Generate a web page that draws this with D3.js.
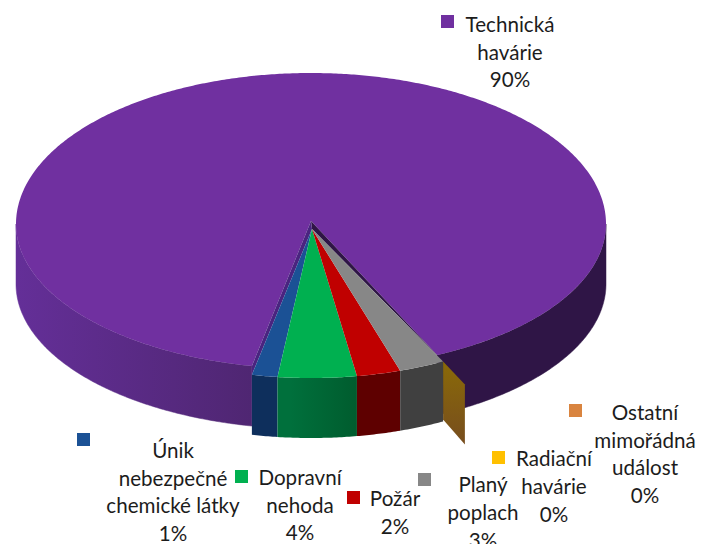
<!DOCTYPE html>
<html>
<head>
<meta charset="utf-8">
<script src="https://cdnjs.cloudflare.com/ajax/libs/d3/7.8.5/d3.min.js"></script>
<style>
    html, body { margin: 0; padding: 0; background: #fff; }
    text { font-family: Lato, "Open Sans", sans-serif; font-size: 20.6px; fill: #1c1c1c; text-anchor: middle; dominant-baseline: central; }
</style>
</head>
<body>
<div id="chart"></div>
<script>
var categories = ["Technická havárie", "Únik nebezpečné chemické látky", "Dopravní nehoda", "Požár", "Planý poplach", "Radiační havárie", "Ostatní mimořádná událost"];
var values = [89.4, 1.4, 4.3, 2.4, 2.5, 0, 0];
var percentLabels = ["90%", "1%", "4%", "2%", "3%", "0%", "0%"];
var labelLines = [["Technická", "havárie"], ["Únik", "nebezpečné", "chemické látky"], ["Dopravní", "nehoda"], ["Požár"], ["Planý", "poplach"], ["Radiační", "havárie"], ["Ostatní", "mimořádná", "událost"]];

var topColors = ["#7030a0", "#1b5195", "#00b050", "#c00000", "#878787", "#ffc000", "#d9843f"];
var wallColors = [null, "#0e2f5c", "url(#wall-green)", "#5e0000", "#404040", null, null];

// legend square and first text line for every category
var labelPos = [
    {sx: 441, sy: 15, tx: 510, ty: 24, lh: 27.5},
    {sx: 77, sy: 433, tx: 173, ty: 450, lh: 27.7},
    {sx: 235, sy: 470, tx: 300, ty: 477, lh: 27.5},
    {sx: 347, sy: 491, tx: 395, ty: 498, lh: 27.5},
    {sx: 418, sy: 473, tx: 483, ty: 484, lh: 28},
    {sx: 492, sy: 451, tx: 554, ty: 458, lh: 28},
    {sx: 569, sy: 404, tx: 645, ty: 412, lh: 27.7}
];

var width = 701, height = 544;
var depth = 60;
var toRad = Math.PI / 180;
var firstAngle = (360 + 153.4) * toRad;

var svg = d3.select("#chart").append("svg")
    .attr("width", width)
    .attr("height", height)
    .style("display", "block");

var xScale = d3.scaleLinear().domain([-1, 1]).range([16, 606]);
// big slice sits further back than the small ones, so the two have their own y scale
var yBig = d3.scaleLinear().domain([-1, 0, 1]).range([73, 224, 369]);
var ySmall = d3.scaleLinear().domain([0, 1]).range([222, 378]);

function rimBig(a) {
    return [xScale(Math.sin(a)), yBig(-Math.cos(a))];
}

function rimSmall(a, r) {
    r = r === undefined ? 1 : r;
    return [xScale(r * Math.sin(a)), ySmall(-r * Math.cos(a))];
}

function arcPoints(rim, a0, a1, dy) {
    var n = Math.max(2, Math.ceil(Math.abs(a1 - a0) / (toRad / 2)));
    return d3.range(n + 1).map(function(i) {
        var p = rim(a0 + (a1 - a0) * i / n);
        return [p[0], p[1] + (dy || 0)];
    });
}

var line = d3.line();
var pie = d3.pie().sort(null).startAngle(firstAngle).endAngle(firstAngle - 2 * Math.PI);
var arcs = pie(values);
var bigStart = arcs[0].startAngle + 1.3 * toRad;

var defs = svg.append("defs");
function addGradient(id, x1, x2, stops) {
    var g = defs.append("linearGradient").attr("id", id)
        .attr("gradientUnits", "userSpaceOnUse")
        .attr("x1", x1).attr("x2", x2).attr("y1", 0).attr("y2", 0);
    stops.forEach(function(s) {
        g.append("stop").attr("offset", s[0]).attr("stop-color", s[1]);
    });
}
addGradient("wall-purple", xScale(-1), xScale(1), [[0, "#642f98"], [0.4, "#4f2672"], [0.41, "#2f1546"], [1, "#2f1546"]]);
addGradient("wall-green", rimSmall(184 * toRad)[0], rimSmall(171 * toRad)[0], [[0, "#00703c"], [1, "#005c2e"]]);
var brown = defs.append("linearGradient").attr("id", "cut-face").attr("x1", 0).attr("x2", 0).attr("y1", 0).attr("y2", 1);
brown.append("stop").attr("offset", 0).attr("stop-color", "#8a6a08");
brown.append("stop").attr("offset", 1).attr("stop-color", "#774d1e");

// purple wall first, it only shows on the near half of the disc
var front = [[90, 270], [450, 630]];
front.forEach(function(f) {
    var lo = Math.max(arcs[0].endAngle, f[0] * toRad);
    var hi = Math.min(bigStart, f[1] * toRad);
    if (hi <= lo) return;
    var pts = arcPoints(rimBig, lo, hi).concat(arcPoints(rimBig, hi, lo, depth));
    svg.append("path").attr("d", line(pts) + "Z")
        .attr("fill", "url(#wall-purple)")
        .attr("stroke", "url(#wall-purple)")
        .attr("stroke-width", 0.5);
});

var apexBig = [xScale(0), 221];
var apexSmall = [xScale(0) + 1, 229];
var cutAngle = arcs[0].startAngle - 2 * Math.PI;
var cutIn = rimSmall(cutAngle), cutOut = rimSmall(cutAngle, 1.165);

svg.append("path")
    .attr("d", line([apexBig].concat(arcPoints(rimBig, bigStart, arcs[0].endAngle))) + "Z")
    .attr("fill", topColors[0]);

// inner sides of the big slice, seen in the gap next to the small slices
svg.append("path")
    .attr("d", line([apexBig, rimBig(bigStart), cutIn, apexSmall]) + "Z")
    .attr("fill", "#2f1546");
svg.append("path")
    .attr("d", line([apexBig, rimBig(arcs[0].endAngle), rimSmall(arcs[0].endAngle), apexSmall]) + "Z")
    .attr("fill", "#4a2480");

// the zero slices leave a cut face sticking out past the rim
svg.append("path")
    .attr("d", line([cutIn, cutOut, [cutOut[0], cutOut[1] + depth], [cutIn[0], cutIn[1] + depth - 2]]) + "Z")
    .attr("fill", "url(#cut-face)");

arcs.forEach(function(d, i) {
    if (i == 0 || d.value == 0) return;
    svg.append("path")
        .attr("d", line(arcPoints(rimSmall, d.startAngle, d.endAngle).concat(arcPoints(rimSmall, d.endAngle, d.startAngle, depth))) + "Z")
        .attr("fill", wallColors[i]);
    svg.append("path")
        .attr("d", line([apexSmall].concat(arcPoints(rimSmall, d.startAngle, d.endAngle))) + "Z")
        .attr("fill", topColors[i]);
});

categories.forEach(function(c, i) {
    var pos = labelPos[i];
    svg.append("rect")
        .attr("x", pos.sx).attr("y", pos.sy)
        .attr("width", 13).attr("height", 13)
        .attr("fill", topColors[i]);
    labelLines[i].concat([percentLabels[i]]).forEach(function(t, j) {
        svg.append("text")
            .attr("x", pos.tx)
            .attr("y", pos.ty + j * pos.lh)
            .text(t);
    });
});
</script>
</body>
</html>
